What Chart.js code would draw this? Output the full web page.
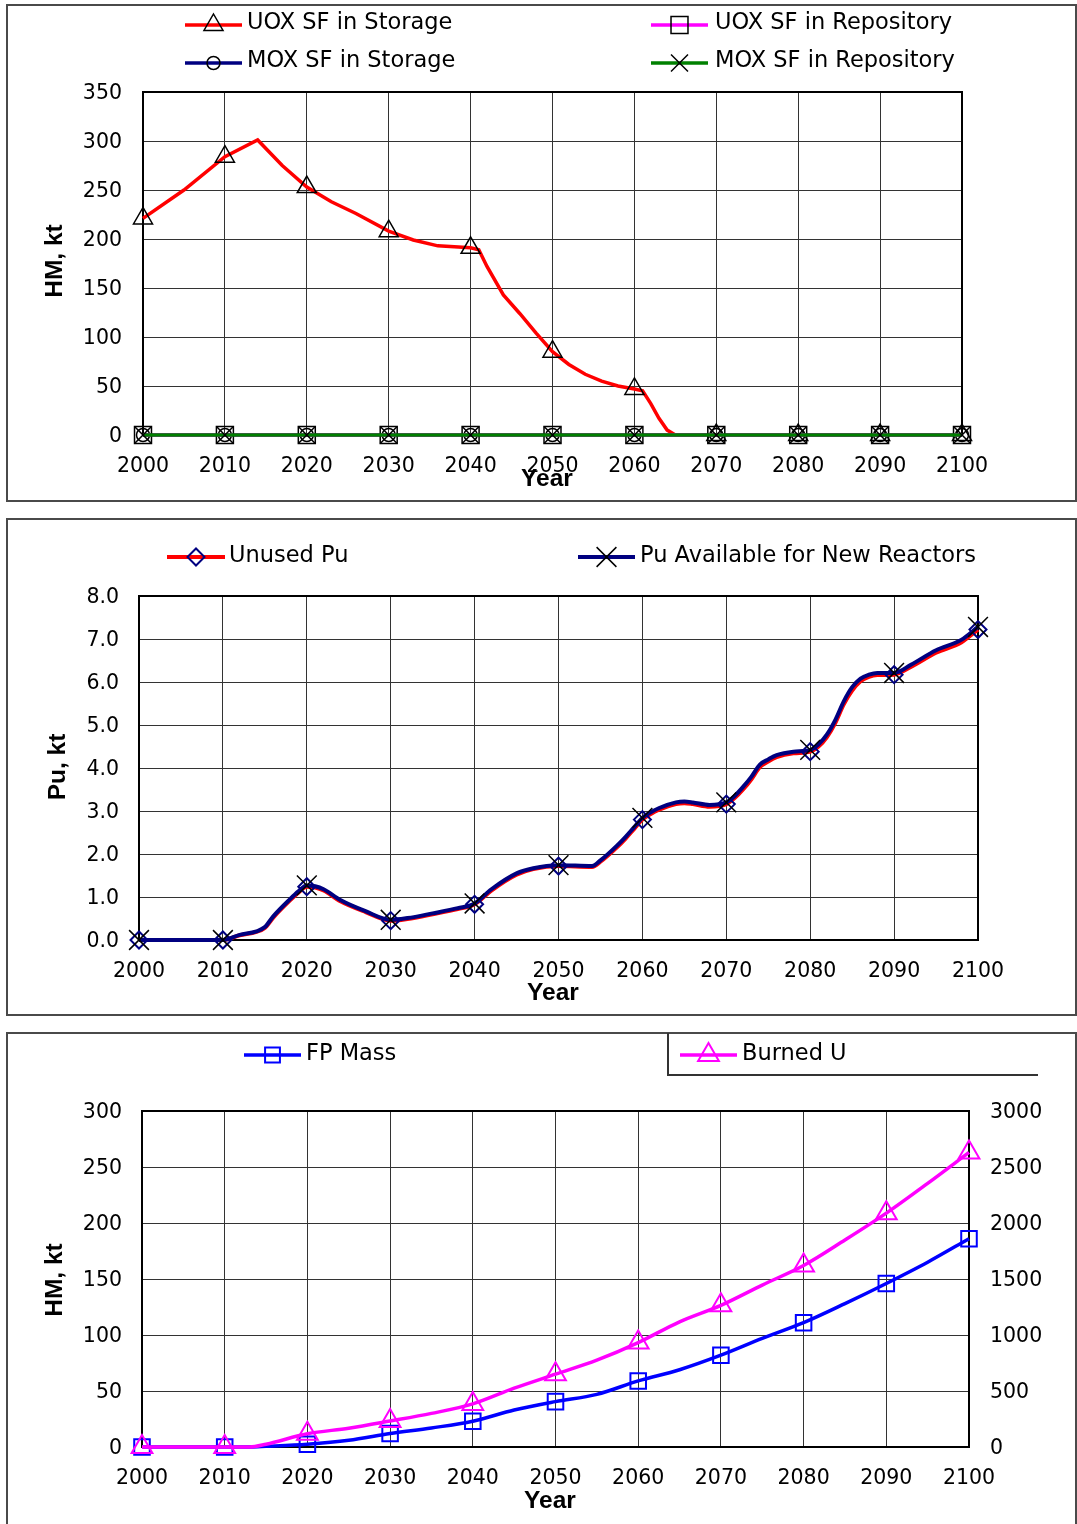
<!DOCTYPE html>
<html lang="en">
<head>
<meta charset="utf-8">
<title>Spent fuel, plutonium and fission product inventories 2000–2100</title>
<script src="https://cdn.jsdelivr.net/npm/chart.js@4.4.1/dist/chart.umd.min.js"></script>
<style>
  html, body { margin: 0; padding: 0; background: #fff; }
  body { position: relative; width: 1077px; height: 1524px; overflow: hidden; }
  .frame { position: absolute; box-sizing: border-box; border: 2px solid #4a4a4a; }
  .legend-box { position: absolute; box-sizing: border-box; border-left: 2px solid #333; border-bottom: 2px solid #333; }
  canvas { position: absolute; display: block; }
</style>
</head>
<body>
<div class="frame" style="left:6px;top:4px;width:1071px;height:498px"></div>
<div class="frame" style="left:6px;top:518px;width:1071px;height:498px"></div>
<div class="frame" style="left:6px;top:1032px;width:1071px;height:520px"></div>
<div class="legend-box" style="left:667px;top:1033px;width:371px;height:43px"></div>

<canvas id="c1" width="1070" height="496" style="left:7px;top:5px;width:1070px;height:496px"></canvas>
<canvas id="c2" width="1070" height="496" style="left:7px;top:519px;width:1070px;height:496px"></canvas>
<canvas id="c3" width="1070" height="491" style="left:7px;top:1033px;width:1070px;height:491px"></canvas>

<script>
// ---------- Panel 1: spent fuel inventories, kt HM ----------
const p1Years = [2000, 2005, 2010, 2014, 2017, 2020, 2023, 2026, 2030, 2033,
                 2036, 2040, 2041, 2042, 2044, 2046, 2048, 2050, 2052, 2054,
                 2056, 2058, 2060, 2061, 2062, 2063, 2064, 2065, 2070, 2080,
                 2090, 2100];
const uoxStorage = [221, 250, 284, 301, 275, 253, 238, 226, 208, 199,
                    193, 191, 189, 172, 143, 124, 104, 85, 72, 62,
                    55, 50, 47, 45, 32, 17, 5, 0, 0, 0,
                    0, 0];
const decadeYears   = [2000, 2010, 2020, 2030, 2040, 2050, 2060, 2070, 2080, 2090, 2100];
const moxStorage    = [0, 0, 0, 0, 0, 0, 0, 0, 0, 0, 0];
const uoxRepository = [0, 0, 0, 0, 0, 0, 0, 0, 0, 0, 0];
const moxRepository = [0, 0, 0, 0, 0, 0, 0, 0, 0, 0, 0];

// ---------- Panel 2: plutonium, kt ----------
const puYears = [2000, 2010, 2012, 2014, 2015, 2016, 2018, 2019, 2020, 2021,
                 2022, 2024, 2027, 2030, 2032, 2035, 2038, 2040, 2042, 2045,
                 2047, 2050, 2054, 2055, 2057, 2058, 2059, 2060, 2061, 2062,
                 2064, 2065, 2066, 2068, 2070, 2071, 2072, 2073, 2074, 2075,
                 2076, 2078, 2080, 2081, 2082, 2083, 2084, 2085, 2086, 2087,
                 2088, 2090, 2092, 2095, 2098, 2100];
const unusedPu = [0, 0, 0.11, 0.19, 0.28, 0.52, 0.92, 1.10, 1.24, 1.22,
                  1.15, 0.90, 0.65, 0.45, 0.49, 0.60, 0.72, 0.83, 1.15, 1.52,
                  1.65, 1.72, 1.70, 1.82, 2.16, 2.36, 2.58, 2.80, 2.93, 3.03,
                  3.16, 3.18, 3.16, 3.10, 3.16, 3.30, 3.50, 3.74, 4.02, 4.15,
                  4.25, 4.34, 4.38, 4.50, 4.72, 5.05, 5.48, 5.80, 6.02, 6.12,
                  6.16, 6.17, 6.35, 6.68, 6.92, 7.22];
const puAvailable = [0, 0, 0.12, 0.20, 0.30, 0.55, 0.95, 1.13, 1.27, 1.25,
                     1.18, 0.93, 0.67, 0.47, 0.51, 0.62, 0.74, 0.85, 1.18, 1.55,
                     1.67, 1.74, 1.72, 1.85, 2.20, 2.40, 2.62, 2.84, 2.97, 3.07,
                     3.20, 3.22, 3.20, 3.14, 3.20, 3.35, 3.56, 3.80, 4.08, 4.20,
                     4.30, 4.38, 4.42, 4.55, 4.78, 5.12, 5.55, 5.88, 6.08, 6.17,
                     6.21, 6.21, 6.40, 6.74, 6.98, 7.28];

// ---------- Panel 3: fission products (kt) and burned uranium ----------
const p3Years = [2000, 2010, 2013, 2015, 2020, 2025, 2030, 2035, 2040, 2045,
                 2050, 2055, 2060, 2065, 2070, 2075, 2080, 2085, 2090, 2095, 2100];
const fpMass  = [0, 0, 0, 0.6, 2.5, 6, 12, 17, 23, 33,
                 40.5, 47, 59, 69, 82, 97, 111, 128, 146, 165, 186];
const burnedU = [0, 0, 0, 25, 118, 168, 232, 300, 385, 525,
                 650, 775, 932, 1118, 1265, 1446, 1620, 1848, 2088, 2354, 2630];

// ---------- shared styling ----------
const TICK_FONT = { family: '"DejaVu Sans", sans-serif', size: 20.5 };
const LEGEND_FONT = '22.5px "DejaVu Sans", sans-serif';
const TITLE_FONT = 'bold 24.5px "Liberation Sans", Arial, sans-serif';
const GRID = '#333';

const toPoints = (xs, ys) => xs.map((x, i) => ({ x: x, y: ys[i] }));
const atDecades = r => ctx => (ctx.raw && ctx.raw.x % 10 === 0 ? r : 0);

function drawMarker(ctx, style, x, y, r, color, lw) {
  ctx.save();
  ctx.strokeStyle = color;
  ctx.lineWidth = lw;
  ctx.beginPath();
  const h = r * Math.SQRT1_2;
  switch (style) {
    case 'triangle':
      ctx.moveTo(x, y - r); ctx.lineTo(x + 0.866 * r, y + r / 2); ctx.lineTo(x - 0.866 * r, y + r / 2); ctx.closePath();
      break;
    case 'rect':
      ctx.rect(x - h, y - h, 2 * h, 2 * h);
      break;
    case 'circle':
      ctx.arc(x, y, r, 0, Math.PI * 2);
      break;
    case 'rectRot':
      ctx.moveTo(x - r, y); ctx.lineTo(x, y - r); ctx.lineTo(x + r, y); ctx.lineTo(x, y + r); ctx.closePath();
      break;
    case 'crossRot':
      ctx.moveTo(x - h, y - h); ctx.lineTo(x + h, y + h); ctx.moveTo(x + h, y - h); ctx.lineTo(x - h, y + h);
      break;
  }
  ctx.stroke();
  ctx.restore();
}

// Plot frame, legend rows and axis titles for one panel (page coordinates, shifted by the canvas offset)
const panelDecor = {
  id: 'panelDecor',
  beforeDatasetsDraw(chart) {
    const { ctx, chartArea: a } = chart;
    ctx.save();
    ctx.strokeStyle = '#000';
    ctx.lineWidth = 2;
    ctx.strokeRect(a.left, a.top, a.right - a.left, a.bottom - a.top);
    ctx.restore();
  },
  afterDraw(chart, args, o) {
    const ctx = chart.ctx;
    const ox = o.offset[0], oy = o.offset[1];
    ctx.save();
    (o.legend || []).forEach(it => {
      const ds = chart.data.datasets[it.index];
      const ly = it.lineY - oy;
      ctx.strokeStyle = ds.borderColor;
      ctx.lineWidth = ds.borderWidth;
      ctx.beginPath();
      ctx.moveTo(it.x1 - ox, ly);
      ctx.lineTo(it.x2 - ox, ly);
      ctx.stroke();
      drawMarker(ctx, ds.pointStyle, (it.x1 + it.x2) / 2 - ox, ly, it.r, ds.pointBorderColor, ds.pointBorderWidth);
      ctx.fillStyle = '#000';
      ctx.font = LEGEND_FONT;
      ctx.textAlign = 'left';
      ctx.textBaseline = 'middle';
      ctx.fillText(ds.label, it.tx - ox, it.ty - oy);
    });
    ctx.fillStyle = '#000';
    ctx.font = TITLE_FONT;
    ctx.textAlign = 'center';
    ctx.textBaseline = 'middle';
    ctx.fillText(o.xTitle.text, o.xTitle.x - ox, o.xTitle.y - oy);
    ctx.translate(o.yTitle.x - ox, o.yTitle.y - oy);
    ctx.rotate(-Math.PI / 2);
    ctx.fillText(o.yTitle.text, 0, 0);
    ctx.restore();
  }
};

function yearAxis(height) {
  return {
    type: 'linear', min: 2000, max: 2100,
    ticks: { stepSize: 10, autoSkip: false, maxRotation: 0, padding: 19, color: '#000', font: TICK_FONT,
             callback: v => String(v) },
    grid: { color: GRID, lineWidth: 1, drawTicks: false },
    border: { display: false },
    afterFit: s => { s.height = height; }
  };
}

function valueAxis(min, max, step, width, pad, fmt, position) {
  return {
    type: 'linear', position: position || 'left', min: min, max: max,
    ticks: { stepSize: step, padding: pad, labelOffset: 2, color: '#000', font: TICK_FONT,
             callback: fmt || (v => String(v)) },
    grid: { color: GRID, lineWidth: 1, drawTicks: false, drawOnChartArea: position !== 'right' },
    border: { display: false },
    afterFit: s => { s.width = width; }
  };
}

function lineSet(label, xs, ys, color, width, style, r, markColor, markWidth, order, extra) {
  return Object.assign({
    label: label,
    data: toPoints(xs, ys),
    borderColor: color,
    borderWidth: width,
    backgroundColor: color,
    pointStyle: style,
    pointRadius: atDecades(r),
    pointHoverRadius: 0,
    pointBorderColor: markColor,
    pointBackgroundColor: 'rgba(0,0,0,0)',
    pointBorderWidth: markWidth,
    tension: 0,
    fill: false,
    clip: false,
    order: order
  }, extra || {});
}

const baseOptions = (padding, scales, decor) => ({
  responsive: false,
  animation: false,
  events: [],
  layout: { padding: padding },
  scales: scales,
  plugins: { legend: { display: false }, tooltip: { enabled: false }, panelDecor: decor }
});

// ---------- Panel 1 ----------
new Chart(document.getElementById('c1'), {
  type: 'line',
  data: {
    datasets: [
      lineSet('UOX SF in Storage', p1Years, uoxStorage, '#ff0000', 3.5, 'triangle', 11, '#000', 1.5, 3),
      lineSet('MOX SF in Storage', decadeYears, moxStorage, '#000080', 3.5, 'circle', 6.5, '#000', 1.5, 2),
      lineSet('UOX SF in Repository', decadeYears, uoxRepository, '#ff00ff', 3.5, 'rect', 12, '#000', 1.5, 1),
      lineSet('MOX SF in Repository', decadeYears, moxRepository, '#008000', 3.5, 'crossRot', 12, '#000', 1.5, 0)
    ]
  },
  options: baseOptions({ left: 0, top: 87, right: 115, bottom: 0 }, {
    x: yearAxis(66),
    y: valueAxis(0, 350, 50, 136, 21)
  }, {
    offset: [7, 5],
    legend: [
      { index: 0, x1: 185, x2: 242, lineY: 25, r: 11, tx: 247, ty: 23 },
      { index: 1, x1: 185, x2: 242, lineY: 63, r: 6.5, tx: 247, ty: 61 },
      { index: 2, x1: 651, x2: 708, lineY: 25, r: 12, tx: 715, ty: 23 },
      { index: 3, x1: 651, x2: 708, lineY: 63, r: 12, tx: 715, ty: 61 }
    ],
    xTitle: { text: 'Year', x: 547, y: 479 },
    yTitle: { text: 'HM, kt', x: 55, y: 261 }
  }),
  plugins: [panelDecor]
});

// ---------- Panel 2 ----------
new Chart(document.getElementById('c2'), {
  type: 'line',
  data: {
    datasets: [
      lineSet('Unused Pu', puYears, unusedPu, '#ff0000', 4, 'rectRot', 8.5, '#000080', 2, 1,
              { cubicInterpolationMode: 'monotone' }),
      lineSet('Pu Available for New Reactors', puYears, puAvailable, '#000080', 4, 'crossRot', 14, '#000', 1.5, 0,
              { cubicInterpolationMode: 'monotone' })
    ]
  },
  options: baseOptions({ left: 0, top: 77, right: 99, bottom: 0 }, {
    x: yearAxis(75),
    y: valueAxis(0, 8, 1, 132, 20, v => v.toFixed(1))
  }, {
    offset: [7, 519],
    legend: [
      { index: 0, x1: 167, x2: 225, lineY: 557, r: 8.5, tx: 229, ty: 556 },
      { index: 1, x1: 578, x2: 635, lineY: 557, r: 14, tx: 640, ty: 556 }
    ],
    xTitle: { text: 'Year', x: 553, y: 993 },
    yTitle: { text: 'Pu, kt', x: 58, y: 767 }
  }),
  plugins: [panelDecor]
});

// ---------- Panel 3 ----------
new Chart(document.getElementById('c3'), {
  type: 'line',
  data: {
    datasets: [
      lineSet('FP Mass', p3Years, fpMass, '#0000ff', 3.5, 'rect', 11, '#0000ff', 2, 1,
              { cubicInterpolationMode: 'monotone', yAxisID: 'y' }),
      lineSet('Burned U', p3Years, burnedU, '#ff00ff', 3.5, 'triangle', 12, '#ff00ff', 2, 0,
              { cubicInterpolationMode: 'monotone', yAxisID: 'y1' })
    ]
  },
  options: baseOptions({ left: 0, top: 78, right: 0, bottom: 0 }, {
    x: yearAxis(77),
    y: valueAxis(0, 300, 50, 135, 20),
    y1: valueAxis(0, 3000, 500, 108, 21, null, 'right')
  }, {
    offset: [7, 1033],
    legend: [
      { index: 0, x1: 244, x2: 301, lineY: 1055, r: 10.5, tx: 306, ty: 1054 },
      { index: 1, x1: 680, x2: 737, lineY: 1055, r: 12, tx: 742, ty: 1054 }
    ],
    xTitle: { text: 'Year', x: 550, y: 1501 },
    yTitle: { text: 'HM, kt', x: 55, y: 1280 }
  }),
  plugins: [panelDecor]
});
</script>
</body>
</html>
